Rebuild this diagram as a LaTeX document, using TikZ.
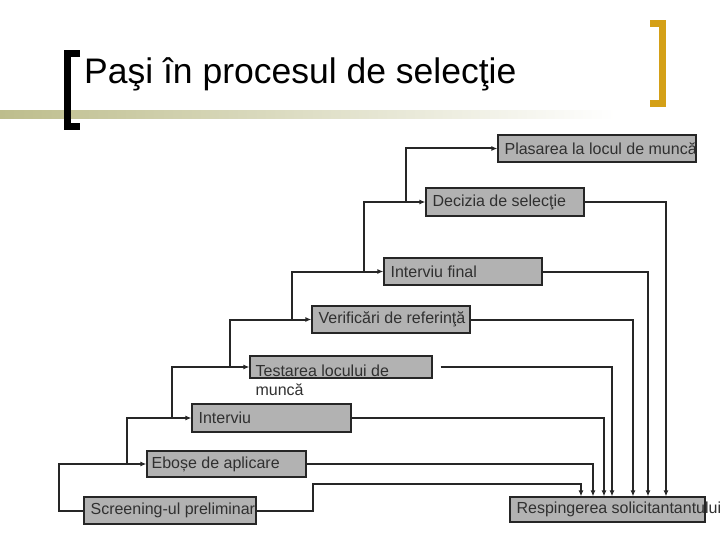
\documentclass[tikz,border=0pt]{standalone}
\usepackage{fontspec}
\setmainfont{Liberation Sans}
\usepackage{xcolor}
\usepackage{tikz}
\usetikzlibrary{positioning, arrows.meta, calc}
\definecolor{psInk}{HTML}{262626}
\definecolor{psText}{HTML}{303030}
\definecolor{psBox}{HTML}{B2B2B2}
\definecolor{psGold}{HTML}{D4A017}
\definecolor{psOlive}{HTML}{BDBD8C}
\tikzset{
  box/.style  ={draw=psInk, fill=psBox, line width=1.2pt, inner sep=0pt},
  lbl/.style  ={anchor=west, inner sep=0pt, text=psText, align=left,
                font=\fontsize{16}{21}\selectfont},
  conn/.style ={-{Latex[length=6pt,width=5pt]}, line width=2pt, psInk},
  brk/.style  ={line width=7pt, miter limit=10},
}

\begin{document}
\begin{tikzpicture}[x=1pt, y=-1pt]
\useasboundingbox (0,0) rectangle (720,540);

% ---- title bar ----
\shade[left color=psOlive, right color=white] (0,111) rectangle (615,119);
\draw[brk, black]  (80,53.5) -- (67.5,53.5) -- (67.5,126.5) -- (80,126.5);
\draw[brk, psGold] (650,23.5) -- (662.5,23.5) -- (662.5,103.5) -- (650,103.5);
\node[anchor=base west, inner sep=0pt, text=black, font=\fontsize{35.5}{40}\selectfont]
  (ttl) at (84,84) {Paşi în procesul de selecţie};

% ---- the steps ----
\node[box, minimum width=198pt, minimum height=27pt] (plas) at (597,148.5) {};
\node[box, minimum width=158pt, minimum height=28pt] (dec)  at (505,202)   {};
\node[box, minimum width=158pt, minimum height=27pt] (intf) at (463,271.5) {};
\node[box, minimum width=158pt, minimum height=27pt] (ver)  at (391,319.5) {};
\node[box, minimum width=182pt, minimum height=22pt] (test) at (341,367)   {};
\node[box, minimum width=159pt, minimum height=28pt] (intv) at (271.5,418) {};
\node[box, minimum width=159pt, minimum height=26pt] (ebo)  at (226.5,464) {};
\node[box, minimum width=172pt, minimum height=27pt] (scr)  at (170,510.5) {};
\node[box, minimum width=195pt, minimum height=25pt] (resp) at (607.5,509.5) {};

\node[lbl] (plasT) at ([xshift=7pt]plas.west) {Plasarea la locul de muncă};
\node[lbl] (decT)  at ([xshift=7pt]dec.west)  {Decizia de selecţie};
\node[lbl] (intfT) at ([xshift=7pt]intf.west) {Interviu final};
\node[lbl] (verT)  at ([xshift=7pt]ver.west)  {Verificări de referinţă};
\node[lbl, anchor=north west, font=\fontsize{16}{19}\selectfont] (testT)
  at ([xshift=6pt, yshift=-9pt]test.north west) {Testarea locului de\\muncă};
\node[lbl] (intvT) at ([xshift=7pt]intv.west) {Interviu};
\node[lbl] (eboT)  at ([xshift=5pt]ebo.west)  {Eboșe de aplicare};
\node[lbl] (scrT)  at ([xshift=7pt]scr.west)  {Screening-ul preliminar};
\node[lbl] (respT) at ([xshift=7pt]resp.west) {Respingerea solicitantantului};

% ---- forward chain (left) ----
\draw[conn] (scr.west) -- ++(-24,0) |- (ebo.west);
\foreach \a/\b in {ebo/intv, intv/test, test/ver, ver/intf, intf/dec, dec/plas}
  {\draw[conn] (\a.west) ++(-19,0) |- (\b.west);}

% ---- rejection paths (right) ----
\draw[conn] (scr.east) -- ++(56,0) -- ++(0,-27) -| ([xshift=-26.5pt]resp.north);
\draw[conn] ([xshift=8pt]test.east) -| ([xshift=4.5pt]resp.north);
\foreach \n/\dx in {ebo/-14.5, intv/-3.5, ver/25.5, intf/40.5, dec/58.5}
  {\draw[conn] (\n.east) -| ([xshift=\dx pt]resp.north);}
\end{tikzpicture}
\end{document}
